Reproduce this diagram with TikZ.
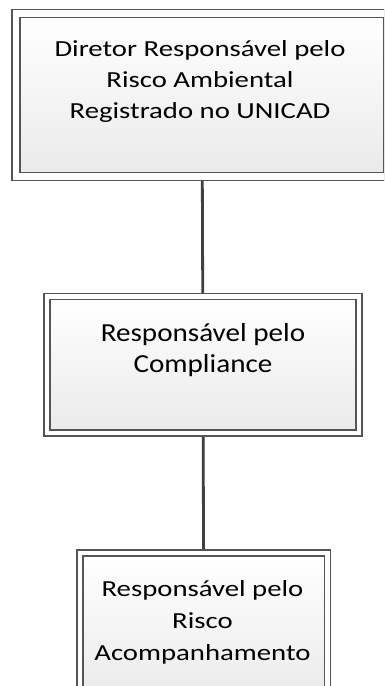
\documentclass[tikz,border=0pt]{standalone}
\usepackage{fontspec}
\setmainfont{Carlito}
\newfontfamily\widefont[FakeStretch=1.25]{Carlito}
\newfontfamily\midfont[FakeStretch=1.12]{Carlito}
\usetikzlibrary{backgrounds,shadows}
\pgfdeclarelayer{paper}
\pgfsetlayers{paper,background,main}
\definecolor{boxline}{HTML}{555555}
\definecolor{conn}{HTML}{404040}
\definecolor{boxbot}{HTML}{EAEAEA}
\tikzset{
  box/.style={draw=boxline, line width=1.5pt, double=white, double distance=4.5pt,
    top color=white, bottom color=boxbot, inner sep=0pt, outer sep=0pt,
    drop shadow={shadow xshift=0pt, shadow yshift=-4pt, opacity=0.12}},
  boxtext/.style={align=center, inner sep=0pt, text=black},
  connector/.style={draw=conn, line width=2.8pt}
}
\begin{document}
\begin{tikzpicture}[x=1pt,y=-1pt]
\useasboundingbox (0,0) rectangle (384,686);
\clip (0,0) rectangle (384,686);
\begin{pgfonlayer}{paper}
\fill[white] (0,0) rectangle (384,686);
\end{pgfonlayer}
\node[box, double distance=6.5pt, minimum width=372pt, minimum height=163pt] (top) at (202,95) {};
\node[box, minimum width=312pt, minimum height=136.5pt] (mid) at (203,364.75) {};
\node[box, minimum width=247.5pt, minimum height=147pt] (bot) at (203.75,626.5) {};
\node[boxtext, font=\widefont\fontsize{23}{31}\selectfont] (toptext) at (200,81)
  {Diretor Responsável pelo\\Risco Ambiental\\Registrado no UNICAD};
\node[boxtext, font=\midfont\fontsize{26}{31}\selectfont] (midtext) at (203,350.5)
  {Responsável pelo\\Compliance};
\node[boxtext, font=\widefont\fontsize{23}{32}\selectfont] (bottext) at (202.5,622)
  {Responsável pelo\\Risco\\Acompanhamento};
\begin{pgfonlayer}{background}
\draw[connector] (top.center) -- (mid.center);
\draw[connector] (mid.center) -- (bot.center);
\end{pgfonlayer}
\end{tikzpicture}
\end{document}
